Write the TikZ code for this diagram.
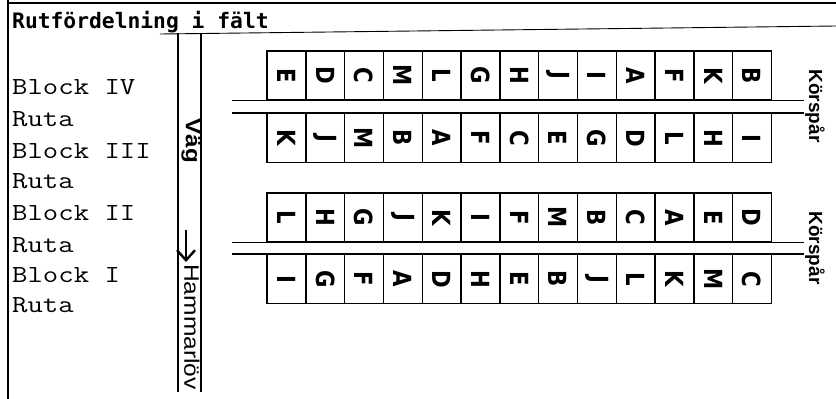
\documentclass[tikz,border=0pt]{standalone}
\usepackage{fontspec}
\setmainfont{Liberation Sans}
\newfontfamily\titlefont{DejaVu Sans Mono}
\newfontfamily\letterfont{DejaVu Sans}
\usepackage{tikz}
\usetikzlibrary{
  arrows.meta,
  positioning
}

\begin{document}
\begin{tikzpicture}[x=1pt, y=-1pt,
  cell/.style={draw, line width=1.4pt, minimum width=38.8pt, minimum height=49pt,
    inner sep=0pt, font=\letterfont\bfseries\fontsize{25}{25}\selectfont},
  blocklabel/.style={anchor=base west, inner sep=0pt,
    font=\ttfamily\fontsize{24.5}{24.5}\selectfont},
  roadlabel/.style={inner sep=0pt, font=\fontsize{21}{21}\selectfont},
  lane/.style={line width=1.4pt}]

\useasboundingbox (0,0) rectangle (836,399);

% Frame and title
\draw[line width=1.2pt] (8,0) -- (8,399);
\draw[line width=1.2pt] (8,3) -- (836,3);
\node[anchor=base west, inner sep=0pt, font=\titlefont\bfseries\fontsize{21.3}{21.3}\selectfont]
  (title) at (12,28) {Rutfördelning i fält};
\draw[line width=0.9pt] (160,34) -- (836,26);

% Block labels
\foreach \txt/\yb [count=\k] in {Block IV/94, Ruta/126, Block III/158, Ruta/188,
    Block II/220, Ruta/252, Block I/282, Ruta/312}
  \node[blocklabel] (b\k) at (12,\yb) {\scalebox{1.22}[1]{\txt}};

% Road
\draw[line width=1.5pt] (178,33) -- (178,392);
\draw[line width=1.5pt] (201,33) -- (201,392);
\node[roadlabel, font=\bfseries\fontsize{21}{21}\selectfont] (vag) at (191,141)
  {\rotatebox{-90}{\scalebox{1.15}[1]{Väg}}};
\coordinate (arrtop) at (186,230);
\coordinate (arrbot) at (186,262);
\draw[line width=2.4pt, -{Straight Barb[length=10pt, width=18pt]}] (arrtop) -- (arrbot);
\node[roadlabel] (hammarlov) at (192,327)
  {\rotatebox{-90}{\scalebox{1.17}[1]{Hammarlöv}}};

% Plots, four rows of thirteen
\foreach \r/\yc/\letters in {1/75.5/{E,D,C,M,L,G,H,J,I,A,F,K,B},
    2/138/{K,J,M,B,A,F,C,E,G,D,L,H,I},
    3/217.5/{L,H,G,J,K,I,F,M,B,C,A,E,D},
    4/279/{I,G,F,A,D,H,E,B,J,L,K,M,C}}
  \foreach \l [count=\i] in \letters
    \node[cell] (c\r-\i) at ({286.4+38.8*(\i-1)},\yc)
      {\rotatebox{-90}{\scalebox{0.85}[1]{\l}}};

% Lanes
\draw[lane] ([xshift=-34pt]c1-1.south west) -- ([xshift=32pt]c1-13.south east);
\draw[lane] ([xshift=-34pt]c2-1.north west) -- ([xshift=32pt]c2-13.north east);
\draw[lane] ([xshift=-34pt]c3-1.south west) -- ([xshift=32pt]c3-13.south east);
\draw[lane] ([xshift=-34pt]c4-1.north west) -- ([xshift=32pt]c4-13.north east);

% Labels
\node[roadlabel, font=\bfseries\fontsize{19}{19}\selectfont] (lane1) at (815,106)
  {\rotatebox{-90}{Körspår}};
\node[roadlabel, font=\bfseries\fontsize{19}{19}\selectfont] (lane2) at (815,248)
  {\rotatebox{-90}{Körspår}};

\end{tikzpicture}
\end{document}
